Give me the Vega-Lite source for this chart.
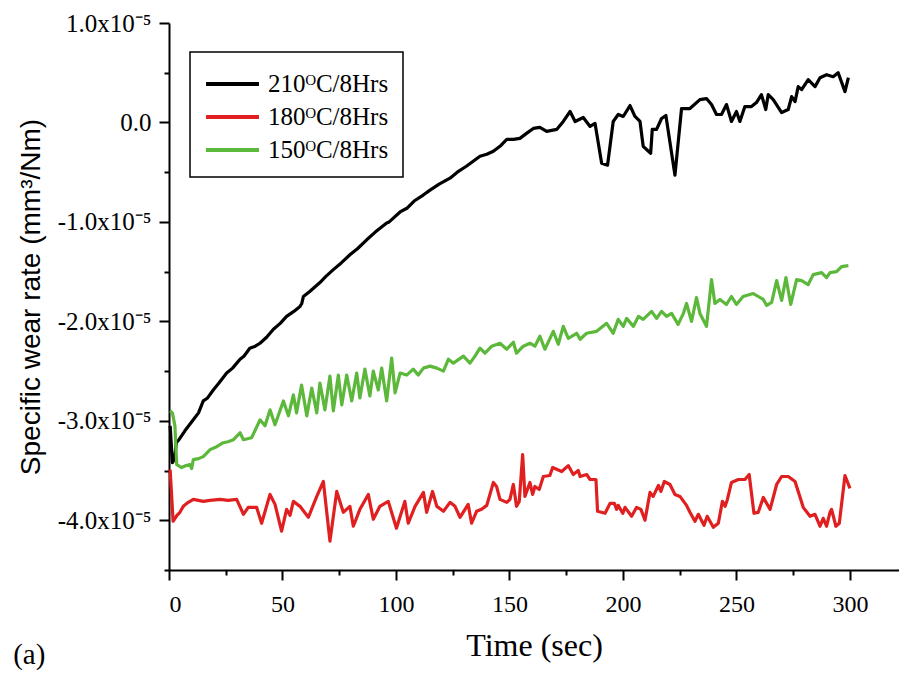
{
 "$schema": "https://vega.github.io/schema/vega-lite/v6.json",
 "width": 730,
 "height": 547,
 "autosize": {"type": "none"},
 "padding": {"left": 169, "top": 23, "right": 0, "bottom": 105},
 "background": "white",
 "title": {"text": "(a)", "orient": "bottom", "anchor": "start", "frame": "bounds", "font": "Liberation Serif", "fontSize": 29, "fontWeight": "normal", "color": "black", "dx": -4, "dy": -24},
 "datasets": {
  "black": [
   {"t":0.5,"v":-3.05e-5},{"t":1.5,"v":-3.42e-5},{"t":2.5,"v":-3.38e-5},{"t":3.2,"v":-3.22e-5},{"t":4.4,"v":-3.19e-5},{"t":7,"v":-3.10e-5},{"t":10.7,"v":-2.99e-5},{"t":13,"v":-2.92e-5},{"t":15.1,"v":-2.80e-5},{"t":17,"v":-2.77e-5},{"t":19.5,"v":-2.69e-5},{"t":22,"v":-2.62e-5},{"t":25.4,"v":-2.52e-5},{"t":28,"v":-2.47e-5},{"t":31.3,"v":-2.38e-5},{"t":33,"v":-2.35e-5},{"t":35.6,"v":-2.27e-5},{"t":38,"v":-2.25e-5},{"t":40.1,"v":-2.22e-5},{"t":43,"v":-2.16e-5},{"t":46,"v":-2.08e-5},{"t":49,"v":-2.02e-5},{"t":51.8,"v":-1.95e-5},{"t":55,"v":-1.90e-5},{"t":57.7,"v":-1.85e-5},{"t":58.5,"v":-1.82e-5},{"t":59.2,"v":-1.75e-5},{"t":62,"v":-1.70e-5},{"t":66.5,"v":-1.61e-5},{"t":69,"v":-1.55e-5},{"t":72.4,"v":-1.48e-5},{"t":76,"v":-1.41e-5},{"t":79.7,"v":-1.33e-5},{"t":83,"v":-1.27e-5},{"t":87.1,"v":-1.18e-5},{"t":91,"v":-1.10e-5},{"t":95.9,"v":-1.01e-5},{"t":97,"v":-1.00e-5},{"t":101.8,"v":-0.90e-5},{"t":105,"v":-0.86e-5},{"t":108,"v":-0.79e-5},{"t":112,"v":-0.73e-5},{"t":115,"v":-0.68e-5},{"t":119,"v":-0.62e-5},{"t":123.8,"v":-0.56e-5},{"t":127,"v":-0.50e-5},{"t":131,"v":-0.44e-5},{"t":134,"v":-0.39e-5},{"t":137,"v":-0.34e-5},{"t":140,"v":-0.32e-5},{"t":142.9,"v":-0.29e-5},{"t":145.8,"v":-0.24e-5},{"t":148.8,"v":-0.17e-5},{"t":151.7,"v":-0.17e-5},{"t":154.6,"v":-0.16e-5},{"t":157.5,"v":-0.11e-5},{"t":160.5,"v":-0.06e-5},{"t":163.4,"v":-0.05e-5},{"t":166.4,"v":-0.09e-5},{"t":170.8,"v":-0.07e-5},{"t":173.7,"v":0.01e-5},{"t":176.7,"v":0.11e-5},{"t":178.9,"v":0.01e-5},{"t":182.5,"v":0.05e-5},{"t":185.5,"v":-0.04e-5},{"t":187.7,"v":-0.01e-5},{"t":190.6,"v":-0.41e-5},{"t":193.2,"v":-0.43e-5},{"t":195.7,"v":0.01e-5},{"t":197.9,"v":0.08e-5},{"t":200.1,"v":0.06e-5},{"t":203.1,"v":0.17e-5},{"t":205.3,"v":0.06e-5},{"t":207.5,"v":0.01e-5},{"t":208.9,"v":-0.24e-5},{"t":212.2,"v":-0.31e-5},{"t":212.9,"v":-0.07e-5},{"t":214.8,"v":-0.07e-5},{"t":217,"v":0.04e-5},{"t":218.9,"v":0.07e-5},{"t":222.9,"v":-0.53e-5},{"t":225.8,"v":0.14e-5},{"t":229.5,"v":0.14e-5},{"t":233.9,"v":0.23e-5},{"t":236.8,"v":0.24e-5},{"t":239,"v":0.18e-5},{"t":241.2,"v":0.08e-5},{"t":243.4,"v":0.08e-5},{"t":245.6,"v":0.18e-5},{"t":247.8,"v":0.01e-5},{"t":250,"v":0.11e-5},{"t":251.5,"v":0.01e-5},{"t":253.7,"v":0.16e-5},{"t":256.6,"v":0.16e-5},{"t":258.8,"v":0.20e-5},{"t":261,"v":0.28e-5},{"t":262.9,"v":0.13e-5},{"t":264,"v":0.28e-5},{"t":266.2,"v":0.23e-5},{"t":269.9,"v":0.10e-5},{"t":272.8,"v":0.13e-5},{"t":274.3,"v":0.26e-5},{"t":275.8,"v":0.21e-5},{"t":277.2,"v":0.36e-5},{"t":278.7,"v":0.33e-5},{"t":281.6,"v":0.43e-5},{"t":284.6,"v":0.36e-5},{"t":286.8,"v":0.45e-5},{"t":289.7,"v":0.48e-5},{"t":292.6,"v":0.46e-5},{"t":294.8,"v":0.50e-5},{"t":297.8,"v":0.31e-5},{"t":299.3,"v":0.45e-5}
  ],
  "red": [
   {"t":0.5,"v":-3.49e-5},{"t":1.8,"v":-4.01e-5},{"t":3.5,"v":-3.95e-5},{"t":4.8,"v":-3.92e-5},{"t":6.3,"v":-3.86e-5},{"t":8.5,"v":-3.82e-5},{"t":10.7,"v":-3.79e-5},{"t":13,"v":-3.80e-5},{"t":15.1,"v":-3.81e-5},{"t":18,"v":-3.80e-5},{"t":22.5,"v":-3.79e-5},{"t":26,"v":-3.80e-5},{"t":29.8,"v":-3.79e-5},{"t":32.8,"v":-3.94e-5},{"t":34.9,"v":-3.87e-5},{"t":38.6,"v":-3.87e-5},{"t":40.8,"v":-4.03e-5},{"t":44.5,"v":-3.74e-5},{"t":46.7,"v":-3.84e-5},{"t":49.6,"v":-4.11e-5},{"t":51.8,"v":-3.89e-5},{"t":53.3,"v":-3.95e-5},{"t":54.8,"v":-3.81e-5},{"t":57.7,"v":-3.86e-5},{"t":61.4,"v":-3.97e-5},{"t":65.1,"v":-3.76e-5},{"t":68,"v":-3.61e-5},{"t":70.9,"v":-4.21e-5},{"t":73.9,"v":-3.71e-5},{"t":76.8,"v":-3.92e-5},{"t":79.7,"v":-3.86e-5},{"t":81.2,"v":-4.06e-5},{"t":84.1,"v":-3.89e-5},{"t":87.8,"v":-3.74e-5},{"t":90,"v":-3.99e-5},{"t":92.9,"v":-3.86e-5},{"t":96.6,"v":-3.81e-5},{"t":100.2,"v":-4.08e-5},{"t":103.9,"v":-3.81e-5},{"t":105.4,"v":-4.03e-5},{"t":108.4,"v":-3.86e-5},{"t":112.1,"v":-3.72e-5},{"t":113.5,"v":-3.92e-5},{"t":116.1,"v":-3.71e-5},{"t":118,"v":-3.86e-5},{"t":120.9,"v":-3.91e-5},{"t":123.8,"v":-3.82e-5},{"t":126,"v":-3.86e-5},{"t":128.2,"v":-3.97e-5},{"t":131.8,"v":-3.84e-5},{"t":133.3,"v":-4.03e-5},{"t":135.5,"v":-3.91e-5},{"t":137.7,"v":-3.89e-5},{"t":140,"v":-3.85e-5},{"t":142.9,"v":-3.62e-5},{"t":144.3,"v":-3.66e-5},{"t":145.8,"v":-3.79e-5},{"t":148.8,"v":-3.82e-5},{"t":150.2,"v":-3.79e-5},{"t":151.7,"v":-3.64e-5},{"t":153.1,"v":-3.86e-5},{"t":154.3,"v":-3.81e-5},{"t":155.8,"v":-3.34e-5},{"t":156.8,"v":-3.76e-5},{"t":159,"v":-3.62e-5},{"t":160.2,"v":-3.74e-5},{"t":161.2,"v":-3.66e-5},{"t":163.1,"v":-3.69e-5},{"t":164.9,"v":-3.56e-5},{"t":167.8,"v":-3.55e-5},{"t":169,"v":-3.47e-5},{"t":173,"v":-3.51e-5},{"t":175.9,"v":-3.45e-5},{"t":178.1,"v":-3.54e-5},{"t":180.3,"v":-3.50e-5},{"t":181.1,"v":-3.56e-5},{"t":184,"v":-3.54e-5},{"t":185.5,"v":-3.59e-5},{"t":188.1,"v":-3.59e-5},{"t":188.8,"v":-3.91e-5},{"t":192.1,"v":-3.93e-5},{"t":194.3,"v":-3.83e-5},{"t":196.2,"v":-3.83e-5},{"t":197.2,"v":-3.89e-5},{"t":197.9,"v":-3.85e-5},{"t":199.9,"v":-3.93e-5},{"t":200.9,"v":-3.87e-5},{"t":203.8,"v":-3.96e-5},{"t":206,"v":-3.87e-5},{"t":207.9,"v":-3.89e-5},{"t":209.7,"v":-4.00e-5},{"t":211.9,"v":-3.72e-5},{"t":213.3,"v":-3.76e-5},{"t":215.6,"v":-3.65e-5},{"t":216.7,"v":-3.71e-5},{"t":218.2,"v":-3.61e-5},{"t":220.7,"v":-3.64e-5},{"t":222.9,"v":-3.74e-5},{"t":225.1,"v":-3.76e-5},{"t":228,"v":-3.85e-5},{"t":229.5,"v":-3.92e-5},{"t":231.7,"v":-4.01e-5},{"t":233.2,"v":-3.94e-5},{"t":235.7,"v":-4.05e-5},{"t":237.1,"v":-3.96e-5},{"t":239.8,"v":-4.07e-5},{"t":242,"v":-4.03e-5},{"t":243.8,"v":-3.81e-5},{"t":245,"v":-3.86e-5},{"t":246,"v":-3.79e-5},{"t":247.8,"v":-3.62e-5},{"t":250.8,"v":-3.59e-5},{"t":253.7,"v":-3.59e-5},{"t":255.6,"v":-3.54e-5},{"t":257.7,"v":-3.93e-5},{"t":259.6,"v":-3.92e-5},{"t":261.8,"v":-3.77e-5},{"t":264.8,"v":-3.89e-5},{"t":267.7,"v":-3.64e-5},{"t":269.9,"v":-3.56e-5},{"t":272.8,"v":-3.56e-5},{"t":275.8,"v":-3.61e-5},{"t":279.4,"v":-3.87e-5},{"t":282.4,"v":-3.96e-5},{"t":284.6,"v":-3.94e-5},{"t":286.8,"v":-4.06e-5},{"t":288.2,"v":-3.98e-5},{"t":289.7,"v":-4.06e-5},{"t":291.2,"v":-3.92e-5},{"t":291.9,"v":-3.89e-5},{"t":293.8,"v":-4.06e-5},{"t":295.3,"v":-4.03e-5},{"t":297.8,"v":-3.55e-5},{"t":300,"v":-3.68e-5}
  ],
  "green": [
   {"t":0.5,"v":-2.90e-5},{"t":1.5,"v":-2.92e-5},{"t":2.6,"v":-3.05e-5},{"t":3.4,"v":-3.44e-5},{"t":5.6,"v":-3.47e-5},{"t":7.5,"v":-3.45e-5},{"t":9.3,"v":-3.44e-5},{"t":10,"v":-3.48e-5},{"t":10.7,"v":-3.39e-5},{"t":13,"v":-3.38e-5},{"t":15.1,"v":-3.36e-5},{"t":18.1,"v":-3.29e-5},{"t":21,"v":-3.26e-5},{"t":23.9,"v":-3.22e-5},{"t":26,"v":-3.21e-5},{"t":28.4,"v":-3.19e-5},{"t":31.3,"v":-3.12e-5},{"t":32.8,"v":-3.19e-5},{"t":36.4,"v":-3.17e-5},{"t":40.1,"v":-2.99e-5},{"t":42.3,"v":-3.05e-5},{"t":44.5,"v":-2.89e-5},{"t":46.7,"v":-3.04e-5},{"t":50.4,"v":-2.80e-5},{"t":52.6,"v":-2.95e-5},{"t":54.8,"v":-2.74e-5},{"t":56.2,"v":-2.92e-5},{"t":58.4,"v":-2.64e-5},{"t":60.7,"v":-2.95e-5},{"t":62.9,"v":-2.67e-5},{"t":65.1,"v":-2.92e-5},{"t":66.5,"v":-2.62e-5},{"t":68.7,"v":-2.89e-5},{"t":70.9,"v":-2.55e-5},{"t":72.4,"v":-2.90e-5},{"t":74.6,"v":-2.54e-5},{"t":76.1,"v":-2.84e-5},{"t":78.3,"v":-2.54e-5},{"t":80.5,"v":-2.80e-5},{"t":82.7,"v":-2.52e-5},{"t":84.1,"v":-2.77e-5},{"t":86.3,"v":-2.48e-5},{"t":88.5,"v":-2.75e-5},{"t":90,"v":-2.50e-5},{"t":92.2,"v":-2.69e-5},{"t":93.7,"v":-2.47e-5},{"t":95.9,"v":-2.80e-5},{"t":98.1,"v":-2.37e-5},{"t":99.6,"v":-2.72e-5},{"t":101.8,"v":-2.52e-5},{"t":104.7,"v":-2.54e-5},{"t":107.6,"v":-2.48e-5},{"t":109.8,"v":-2.54e-5},{"t":112.1,"v":-2.47e-5},{"t":115,"v":-2.45e-5},{"t":118,"v":-2.47e-5},{"t":120.9,"v":-2.50e-5},{"t":123.1,"v":-2.38e-5},{"t":125.3,"v":-2.42e-5},{"t":129.7,"v":-2.35e-5},{"t":132.6,"v":-2.42e-5},{"t":134.8,"v":-2.35e-5},{"t":137,"v":-2.27e-5},{"t":139.2,"v":-2.32e-5},{"t":142.2,"v":-2.25e-5},{"t":145.8,"v":-2.22e-5},{"t":148.8,"v":-2.28e-5},{"t":151.7,"v":-2.21e-5},{"t":153.1,"v":-2.32e-5},{"t":156.1,"v":-2.25e-5},{"t":159,"v":-2.22e-5},{"t":161.2,"v":-2.25e-5},{"t":163.4,"v":-2.15e-5},{"t":165.6,"v":-2.28e-5},{"t":169.3,"v":-2.10e-5},{"t":171.5,"v":-2.23e-5},{"t":173.7,"v":-2.05e-5},{"t":175.9,"v":-2.17e-5},{"t":179.6,"v":-2.12e-5},{"t":181.1,"v":-2.18e-5},{"t":184,"v":-2.12e-5},{"t":188.4,"v":-2.10e-5},{"t":192.8,"v":-2.02e-5},{"t":195.7,"v":-2.12e-5},{"t":197.9,"v":-1.98e-5},{"t":200.1,"v":-2.05e-5},{"t":201.6,"v":-1.97e-5},{"t":204.6,"v":-2.05e-5},{"t":206.8,"v":-1.95e-5},{"t":208.9,"v":-1.98e-5},{"t":212.6,"v":-1.90e-5},{"t":214.8,"v":-1.97e-5},{"t":217,"v":-1.90e-5},{"t":219.2,"v":-1.95e-5},{"t":221.4,"v":-1.92e-5},{"t":224.3,"v":-2.03e-5},{"t":226.6,"v":-1.92e-5},{"t":228,"v":-1.82e-5},{"t":230.2,"v":-2.00e-5},{"t":232.4,"v":-1.76e-5},{"t":233.9,"v":-1.92e-5},{"t":236.8,"v":-2.05e-5},{"t":239,"v":-1.58e-5},{"t":240.5,"v":-1.82e-5},{"t":242.7,"v":-1.78e-5},{"t":245.6,"v":-1.83e-5},{"t":247.8,"v":-1.75e-5},{"t":250,"v":-1.83e-5},{"t":252.9,"v":-1.75e-5},{"t":257.4,"v":-1.72e-5},{"t":259.6,"v":-1.75e-5},{"t":261.8,"v":-1.78e-5},{"t":263.3,"v":-1.84e-5},{"t":265.5,"v":-1.81e-5},{"t":267.7,"v":-1.59e-5},{"t":269.9,"v":-1.79e-5},{"t":271.8,"v":-1.56e-5},{"t":273.9,"v":-1.83e-5},{"t":276.5,"v":-1.58e-5},{"t":278.7,"v":-1.59e-5},{"t":281.6,"v":-1.63e-5},{"t":283.8,"v":-1.53e-5},{"t":287.5,"v":-1.51e-5},{"t":289.7,"v":-1.56e-5},{"t":291.2,"v":-1.51e-5},{"t":294.1,"v":-1.50e-5},{"t":296.3,"v":-1.45e-5},{"t":299.3,"v":-1.44e-5}
  ]
 },
 "layer": [
  {
   "data": {"name": "black"},
   "mark": {"type": "line", "strokeWidth": 3.2, "strokeJoin": "round"},
   "encoding": {
    "x": {"field": "t", "type": "quantitative", "scale": {"domain": [0, 321.6], "nice": false, "zero": false},
      "axis": {"orient": "bottom", "values": [0, 50, 100, 150, 200, 250, 300], "labelFontSize": 24, "labelPadding": 12, "title": "Time (sec)", "titleFont": "Liberation Serif", "titleFontSize": 32, "titlePadding": 14}},
    "y": {"field": "v", "type": "quantitative", "scale": {"domain": [-4.5e-5, 1.0e-5], "nice": false, "zero": false},
      "axis": {"orient": "left", "values": [-4e-5, -3e-5, -2e-5, -1e-5, 0, 1e-5], "labelExpr": "datum.value == 0 ? '0.0' : (datum.value < 0 ? '-' : '') + format(abs(datum.value * 1e5), '.1f') + 'x10⁻⁵'", "labelFontSize": 25, "labelPadding": 8, "title": "Specific wear rate (mm³/Nm)", "titleFont": "Liberation Sans", "titleFontSize": 28, "titlePadding": 12}},
    "color": {"datum": "210ᴼC/8Hrs", "type": "nominal",
      "scale": {"domain": ["210ᴼC/8Hrs", "180ᴼC/8Hrs", "150ᴼC/8Hrs"], "range": ["#000000", "#e02020", "#5cb83a"]},
      "legend": {"title": null, "encode": {"symbols": {"update": {"y": {"value": 18}}}, "labels": {"update": {"y": {"value": 18}}}}}}
   }
  },
  {
   "data": {"name": "red"},
   "mark": {"type": "line", "strokeWidth": 3.2, "strokeJoin": "round"},
   "encoding": {
    "x": {"field": "t", "type": "quantitative", "axis": null},
    "y": {"field": "v", "type": "quantitative", "axis": null},
    "color": {"datum": "180ᴼC/8Hrs", "type": "nominal"}
   }
  },
  {
   "data": {"name": "green"},
   "mark": {"type": "line", "strokeWidth": 3.2, "strokeJoin": "round"},
   "encoding": {
    "x": {"field": "t", "type": "quantitative", "axis": null},
    "y": {"field": "v", "type": "quantitative", "axis": null},
    "color": {"datum": "150ᴼC/8Hrs", "type": "nominal"}
   }
  },
  {
   "data": {"name": "green"},
   "mark": {"type": "point", "opacity": 0},
   "encoding": {
    "x": {"field": "t", "type": "quantitative", "axis": {"orient": "bottom", "values": [25, 75, 125, 175, 225, 275], "labels": false, "domain": false, "tickSize": 5, "title": null}},
    "y": {"field": "v", "type": "quantitative", "axis": {"orient": "left", "values": [-4.5e-5, -3.5e-5, -2.5e-5, -1.5e-5, -0.5e-5, 0.5e-5], "labels": false, "domain": false, "tickSize": 5, "title": null}}
   }
  }
 ],
 "resolve": {"axis": {"x": "independent", "y": "independent"}},
 "config": {
  "view": {"stroke": null},
  "axis": {"domainColor": "black", "domainWidth": 2, "tickColor": "black", "tickWidth": 2, "tickSize": 10, "labelColor": "black", "labelFont": "Liberation Serif", "grid": false, "titleColor": "black", "titleFontWeight": "normal"},
  "legend": {"orient": "none", "legendX": 21, "legendY": 29, "direction": "vertical", "strokeColor": "black", "strokeWidth": 1.5, "fillColor": "white", "padding": 14, "symbolType": "stroke", "symbolStrokeWidth": 4, "symbolSize": 2800, "labelFont": "Liberation Serif", "labelFontSize": 25, "labelColor": "black", "rowPadding": 2, "labelOffset": 7}
 }
}
